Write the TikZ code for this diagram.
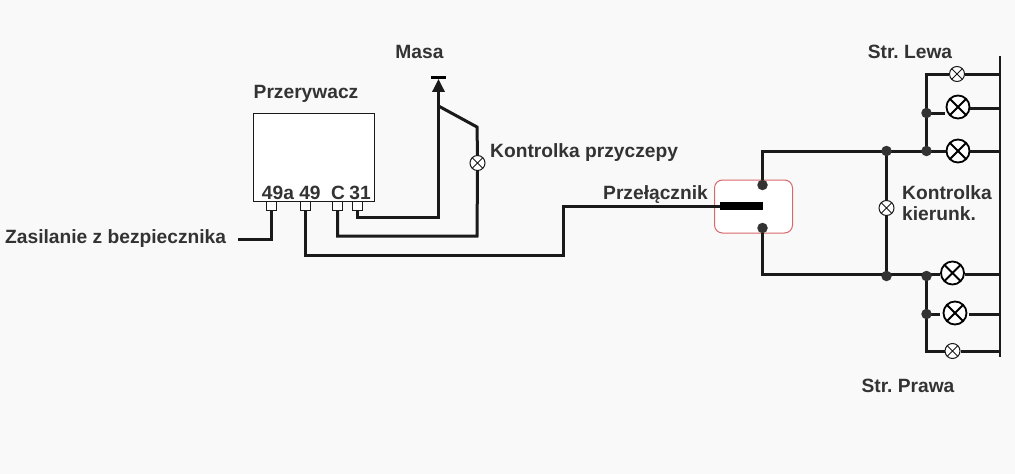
\documentclass[tikz,border=0pt]{standalone}
\usepackage{fontspec}
\setmainfont{Liberation Sans}
\usetikzlibrary{arrows.meta}
\definecolor{papergray}{HTML}{F9F9F9}
\definecolor{labelgray}{HTML}{333333}
\definecolor{wireblack}{HTML}{1A1A1A}
\definecolor{dotgray}{HTML}{333333}
\definecolor{switchred}{HTML}{D9686A}
\tikzset{wire/.style={draw=wireblack, line width=3pt},
	label/.style={text=labelgray, inner sep=0pt, font=\fontsize{19.2}{22}\selectfont\bfseries},
	pin/.style={rectangle, draw=wireblack, fill=white, line width=0.8pt, inner sep=0pt, minimum width=10pt, minimum height=9pt},
	dot/.style={circle, fill=dotgray, inner sep=0pt, minimum size=10.5pt},
	biglamp/.style={circle, draw=black, fill=white, line width=1.8pt, inner sep=0pt, minimum size=23pt,
		path picture={\draw[line width=1.8pt] (path picture bounding box.north west) -- (path picture bounding box.south east)
			(path picture bounding box.north east) -- (path picture bounding box.south west);}},
	smalllamp/.style={circle, draw=wireblack, fill=white, line width=1pt, inner sep=0pt, minimum size=15pt,
		path picture={\draw[line width=1pt] (path picture bounding box.north west) -- (path picture bounding box.south east)
			(path picture bounding box.north east) -- (path picture bounding box.south west);}}
}
\frenchspacing

\begin{document}
\begin{tikzpicture}[x=1pt,y=-1pt]
	\fill[papergray] (0,0) rectangle (1015,474);
	\useasboundingbox (0,0) rectangle (1015,474);
	% przerywacz
	\node[rectangle, draw=wireblack, fill=white, line width=1pt, inner sep=0pt, minimum width=121pt, minimum height=88pt, anchor=north west] (przerywacz) at (252.5,113) {};
	\node[pin] (p49a) at (271.5,205.5) {};
	\node[pin] (p49) at (305.5,205.5) {};
	\node[pin] (pc) at (337.5,205.5) {};
	\node[pin] (p31) at (357,205.5) {};
	\node[label, anchor=base] at (278,199.7) {49a};
	\node[label, anchor=base] at (310,199.7) {49};
	\node[label, anchor=base] at (338,199.7) {C};
	\node[label, anchor=base] at (360,199.7) {31};
	\node[label, anchor=base] (tprzerywacz) at (306,98.7) {Przerywacz};
	\node[label, anchor=base west] (tzasilanie) at (5,243) {Zasilanie z bezpiecznika};
	\node[label, anchor=base] (tmasa) at (419.5,58.5) {Masa};
	\node[label, anchor=base west] (tkontrolka) at (490,157) {Kontrolka przyczepy};
	\node[label, anchor=base west] (tprzelacznik) at (603,199.7) {Przełącznik};
	\node[label, anchor=base] (tlewa) at (910,58.5) {Str. Lewa};
	\node[label, anchor=base] (tprawa) at (908,392.7) {Str. Prawa};
	\node[label, anchor=base west] (tkierunk1) at (902,199.7) {Kontrolka};
	\node[label, anchor=base west] (tkierunk2) at (902,220.7) {kierunk.};
	% masa
	\node[rectangle, fill=black, inner sep=0pt, minimum width=15pt, minimum height=2.4pt] (masa) at (438.5,77.5) {};
	\coordinate (zasilanie) at (238,239);
	\coordinate (zagiecie) at (438.5,106);
	\coordinate (kolanko) at (477,127);
	\node[smalllamp] (lampka) at (477.5,163) {};
	% przelacznik
	\node[rectangle, rounded corners=8pt, draw=switchred, fill=white, line width=1pt, minimum width=78pt, minimum height=53pt, inner sep=0pt] (przelacznik) at (753.5,206.5) {};
	\node[rectangle, fill=black, inner sep=0pt, minimum width=43pt, minimum height=8pt] (styk) at (741.5,206) {};
	\node[dot] (gora) at (762.5,185) {};
	\node[dot] (dol) at (762.5,228) {};
	% prawa strona
	\coordinate (szynagora) at (999.5,56);
	\coordinate (szynadol) at (999.5,357);
	\coordinate (dolna) at (762.5,274.5);
	\draw[draw=wireblack, line width=2pt] (szynagora) -- (szynadol);
	\node[smalllamp] (l1) at (957,74) {};
	\node[biglamp] (l2) at (958,107) {};
	\node[biglamp] (l3) at (958,151) {};
	\node[biglamp] (l4) at (952.5,273) {};
	\node[biglamp] (l5) at (955,313) {};
	\node[smalllamp] (l6) at (952.5,351) {};
	\node[smalllamp] (lk) at (886.5,208) {};
	% przewody
	\draw[wire] (p49a.south) |- (zasilanie);
	\draw[wire] (p49.south) |- (563,255) |- (styk.west);
	\draw[wire] (pc.south) |- (477,236) -- (lampka.south);
	\draw[wire] (lampka.north) -- (kolanko) -- (zagiecie);
	\draw[wire] (p31.south) |- (438.5,217) -- (zagiecie);
	\draw[wire, -{Triangle[width=12pt,length=13pt]}] (zagiecie) -- (masa.south);
	\draw[wire] (gora) |- (l3.west);
	\draw[wire] (l3) -- (l3 -| szynagora);
	\draw[wire] (926.5,151) |- (l1);
	\draw[wire] (l1) -- (l1 -| szynagora);
	\draw[wire] (926.5,113) -- (945,113);
	\draw[wire] (970,108.5) -- (szynagora |- 0,108.5);
	\draw[wire] (886.5,151) -- (lk);
	\draw[wire] (lk) -- (886.5,274.5);
	\draw[wire] (dol) -- (dolna) -- (dolna -| l4.west);
	\draw[wire] (965,274.5) -- (szynagora |- 0,274.5);
	\draw[wire] (926.5,274.5) |- (l6);
	\draw[wire] (926.5,314) -- (940,314);
	\draw[wire] (969,314) -- (szynagora |- 0,314);
	\draw[wire] (l6) -- (l6 -| szynagora);
	% wezly
	\node[dot] (w1) at (886.5,151) {};
	\node[dot] (w2) at (926.5,151) {};
	\node[dot] (w3) at (926.5,113) {};
	\node[dot] (w4) at (886.5,276) {};
	\node[dot] (w5) at (926.5,276) {};
	\node[dot] (w6) at (926.5,314) {};
\end{tikzpicture}
\end{document}
